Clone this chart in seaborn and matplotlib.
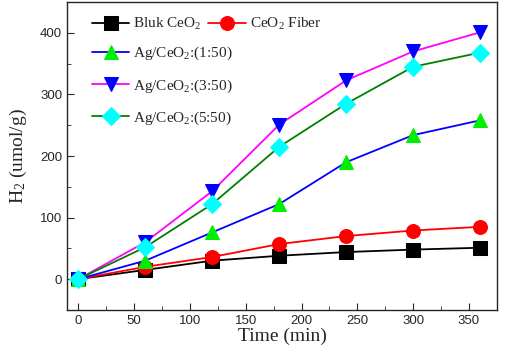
import numpy as np
import pandas as pd
import seaborn as sns
import matplotlib
matplotlib.use("Agg")
from matplotlib import pyplot as plt
from matplotlib.ticker import MultipleLocator

time_min = [0, 60, 120, 180, 240, 300, 360]
bluk_ceo2 = [0, 15, 30, 38, 44, 48, 51]
ceo2_fiber = [0, 20, 36, 57, 70, 79, 85]
ag_1_50 = [0, 30, 76, 122, 190, 234, 258]
ag_3_50 = [0, 60, 143, 251, 323, 370, 401]
ag_5_50 = [0, 52, 122, 215, 285, 345, 368]

labels = ["Bluk CeO$_2$", "CeO$_2$ Fiber", "Ag/CeO$_2$:(1:50)",
          "Ag/CeO$_2$:(3:50)", "Ag/CeO$_2$:(5:50)"]
series = [bluk_ceo2, ceo2_fiber, ag_1_50, ag_3_50, ag_5_50]
line_colors = ["black", "red", "blue", "magenta", "green"]
face_colors = ["black", "red", "#00ee00", "blue", "cyan"]
markers = ["s", "o", "^", "v", "D"]

sns.set_style("ticks")
plt.rcParams["font.family"] = ["Liberation Serif", "DejaVu Serif"]
plt.rcParams["mathtext.fontset"] = "custom"
plt.rcParams["mathtext.rm"] = "Liberation Serif"
plt.rcParams["mathtext.it"] = "Liberation Serif:italic"

fig, ax = plt.subplots(figsize=(5.05, 3.55), dpi=100)

handles = []
for lab, vals, lc, fc, m in zip(labels, series, line_colors, face_colors, markers):
    df = pd.DataFrame({"Time": time_min, "H2": vals})
    sns.lineplot(data=df, x="Time", y="H2", ax=ax, color=lc, marker=m,
                 markersize=10 if m != "D" else 9, markerfacecolor=fc,
                 markeredgecolor=fc, linewidth=1.3)
    handles.append(ax.lines[-1])

ax.set_xlim(-10, 375)
ax.set_ylim(-50, 450)
ax.xaxis.set_major_locator(MultipleLocator(50))
ax.xaxis.set_minor_locator(MultipleLocator(25))
ax.yaxis.set_major_locator(MultipleLocator(100))
ax.yaxis.set_minor_locator(MultipleLocator(50))
ax.tick_params(which="both", direction="in", top=False, right=False)
ax.tick_params(which="major", length=5, labelsize=9.5,
               labelfontfamily="Liberation Sans")
ax.tick_params(which="minor", length=3)
for s in ax.spines.values():
    s.set_visible(True)
    s.set_linewidth(1)

ax.set_xlabel("Time (min)", fontsize=14, labelpad=1)
ax.set_ylabel("H$_2$ (umol/g)", fontsize=14, labelpad=8)

leg_kw = dict(frameon=False, fontsize=11, handlelength=2.45,
              handletextpad=0.25, borderpad=0, borderaxespad=0)
leg1 = ax.legend(handles[:2], labels[:2], ncol=2, loc="upper left",
                 bbox_to_anchor=(92 / 505, 1 - 16 / 355),
                 bbox_transform=fig.transFigure, columnspacing=0.45, **leg_kw)
ax.add_artist(leg1)
ax.legend(handles[2:], labels[2:], loc="upper left",
          bbox_to_anchor=(92 / 505, 1 - 45 / 355),
          bbox_transform=fig.transFigure, labelspacing=0.98, **leg_kw)

plt.subplots_adjust(left=0.133, right=0.984, top=0.994, bottom=0.127)
fig.savefig("out.png", dpi=100)
